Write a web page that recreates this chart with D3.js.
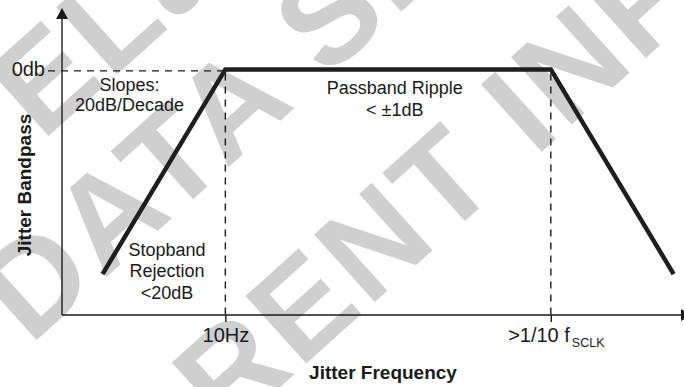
<!DOCTYPE html>
<html>
<head>
<meta charset="utf-8">
<script src="https://cdn.jsdelivr.net/npm/d3@7"></script>
<style>
  body { margin: 0; background: #fff; }
  svg { display: block; font-family: "Liberation Sans", Arial, Helvetica, sans-serif; color: #1a1a1a; }
</style>
</head>
<body>
<div id="chart"></div>
<script>
'use strict';

// response: x in decades (log10 Hz), y in dB
var freqDecades = [0, 1, 3.65, 4.65];
var gainDb = [-20, 0, 0, -20];

// ticks
var freqTicks = [1, 3.65];
var freqTickLabels = ["10Hz", ">1/10 f"];
var gainTicks = [0];
var gainTickLabels = ["0db"];

// notes
var slopeNote = ["Slopes:", "20dB/Decade"];
var passbandNote = ["Passband Ripple", "< \u00b11dB"];
var stopbandNote = ["Stopband", "Rejection", "<20dB"];

// watermark
var watermarkLines = ["ELa", "DATA SH", "RENT INFO"];

var width = 684,
    height = 387;

var svg = d3.select("#chart").append("svg")
  .attr("width", width)
  .attr("height", height);

var x = d3.scaleLinear().domain([-0.33, 4.71]).range([62, 681]);
var y = d3.scaleLinear().domain([-24, 6]).range([315, 8]);

var x0 = x.range()[0], x1 = x.range()[1],
    y0 = y.range()[0], y1 = y.range()[1];

/* watermark, under everything */
var wmPos = [[42, 142], [30, 346], [226, 436]];
svg.append("g")
  .attr("class", "watermark")
  .selectAll("text")
  .data(watermarkLines)
  .enter().append("text")
  .attr("transform", function(d, i) { return "translate(" + wmPos[i][0] + "," + wmPos[i][1] + ") rotate(-42)"; })
  .attr("fill", "#cfcfcf")
  .style("font-weight", "bold")
  .style("font-size", "132px")
  .style("letter-spacing", "4px")
  .text(function(d) { return d; });

/* dashed guides */
var guides = svg.append("g")
  .attr("stroke", "#1a1a1a")
  .attr("stroke-width", 1.4)
  .attr("stroke-dasharray", "7,6");

guides.append("line")
  .attr("x1", x0 - 14).attr("x2", x(freqTicks[0]))
  .attr("y1", y(gainTicks[0]) + 1.5).attr("y2", y(gainTicks[0]) + 1.5);

guides.selectAll("line.v")
  .data(freqTicks)
  .enter().append("line")
  .attr("class", "v")
  .attr("x1", function(d) { return x(d); })
  .attr("x2", function(d) { return x(d); })
  .attr("y1", y(gainTicks[0]) + 4)
  .attr("y2", y0);

/* axes */
var xAxis = d3.axisBottom(x)
  .tickValues(freqTicks)
  .tickSize(7)
  .tickPadding(6)
  .tickFormat(function(d, i) { return freqTickLabels[i]; });

var gx = svg.append("g")
  .attr("transform", "translate(0," + y0 + ")")
  .call(xAxis)
  .attr("font-family", null)
  .attr("font-size", null);
gx.select(".domain").remove();
gx.selectAll(".tick line").attr("stroke-width", 1.4);
gx.selectAll(".tick text").style("font-size", "20px");
// f subscript
gx.selectAll(".tick text")
  .filter(function(d, i) { return i === 1; })
  .attr("x", 5)
  .append("tspan")
  .attr("dx", 2)
  .attr("dy", 5)
  .style("font-size", "12.5px")
  .text("SCLK");

var yAxis = d3.axisLeft(y)
  .tickValues(gainTicks)
  .tickSize(0)
  .tickPadding(17)
  .tickFormat(function(d, i) { return gainTickLabels[i]; });

var gy = svg.append("g")
  .attr("transform", "translate(" + x0 + ",0)")
  .call(yAxis)
  .attr("font-family", null)
  .attr("font-size", null);
gy.select(".domain").remove();
gy.selectAll(".tick text").style("font-size", "20px");

// axis lines with arrow heads
var axisG = svg.append("g").attr("stroke", "#1a1a1a").attr("stroke-width", 1.4);
axisG.append("line").attr("x1", x0).attr("y1", y0).attr("x2", x0).attr("y2", y1 + 10);
axisG.append("line").attr("x1", x0).attr("y1", y0).attr("x2", x1).attr("y2", y0);
svg.append("path")
  .attr("fill", "#1a1a1a")
  .attr("d", "M" + x0 + "," + y1 + "L" + (x0 - 6) + "," + (y1 + 11) + "L" + (x0 + 6) + "," + (y1 + 11) + "Z");
svg.append("path")
  .attr("fill", "#1a1a1a")
  .attr("d", "M" + (x1 + 11) + "," + y0 + "L" + x1 + "," + (y0 - 6) + "L" + x1 + "," + (y0 + 6) + "Z");

/* response curve */
var line = d3.line()
  .x(function(d) { return x(d[0]); })
  .y(function(d) { return y(d[1]); });

svg.append("path")
  .datum(d3.zip(freqDecades, gainDb))
  .attr("fill", "none")
  .attr("stroke", "#1e1e1e")
  .attr("stroke-width", 4.5)
  .attr("stroke-linejoin", "miter")
  .attr("d", line);

/* notes */
function note(lines, cx, cy, step) {
  svg.append("g")
    .selectAll("text")
    .data(lines)
    .enter().append("text")
    .attr("x", cx)
    .attr("y", function(d, i) { return cy + i * step; })
    .attr("text-anchor", "middle")
    .attr("fill", "#1a1a1a")
    .style("font-size", "18px")
    .text(function(d) { return d; });
}
note(slopeNote, x(0.22), y(-2.1), 20);
note(passbandNote, x(2.38), y(-2.4), 22);
note(stopbandNote, x(0.525), y(-18.2), 21.5);

/* axis titles */
svg.append("text")
  .attr("x", 383)
  .attr("y", 379)
  .attr("text-anchor", "middle")
  .attr("fill", "#1a1a1a")
  .style("font-size", "19px")
  .style("font-weight", "bold")
  .text("Jitter Frequency");

svg.append("text")
  .attr("transform", "translate(31,185) rotate(-90)")
  .attr("text-anchor", "middle")
  .attr("fill", "#1a1a1a")
  .style("font-size", "19px")
  .style("font-weight", "bold")
  .text("Jitter Bandpass");
</script>
</body>
</html>
